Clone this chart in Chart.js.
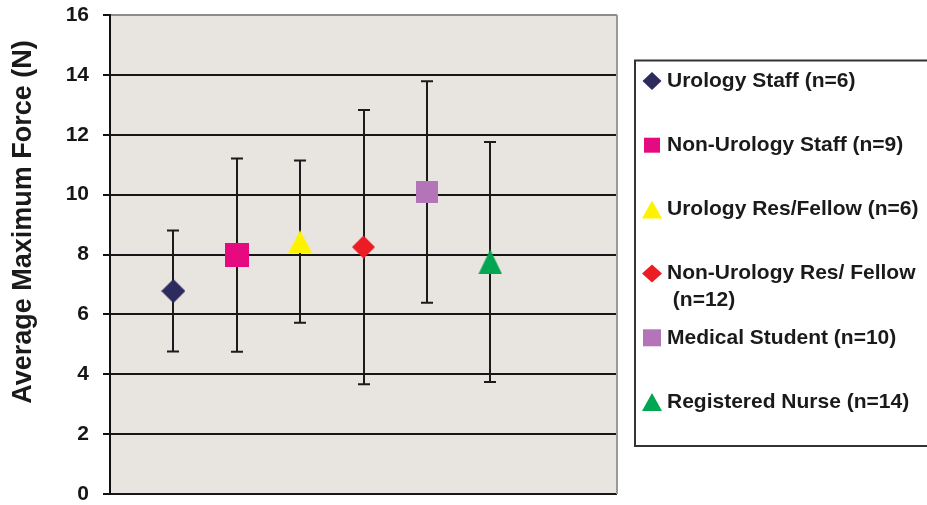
<!DOCTYPE html>
<html>
<head>
<meta charset="utf-8">
<script src="https://cdn.jsdelivr.net/npm/chart.js@4.4.1/dist/chart.umd.min.js"></script>
<style>
  html, body { margin: 0; padding: 0; background: #ffffff; }
  #wrap { width: 927px; height: 505px; position: relative; }
</style>
</head>
<body>
<div id="wrap"><canvas id="c" width="927" height="505"></canvas></div>
<script>
// Groups tested, mean of the maximum force (N) and the error-bar half width
const groups = [
  'Urology Staff (n=6)',
  'Non-Urology Staff (n=9)',
  'Urology Res/Fellow (n=6)',
  'Non-Urology Res/ Fellow (n=12)',
  'Medical Student (n=10)',
  'Registered Nurse (n=14)'
];
const meanForce = [6.78, 7.98, 8.43, 8.25, 10.09, 7.75];
const errForce = [2.02, 3.23, 2.71, 4.58, 3.70, 4.01];
const yTicks = [0, 2, 4, 6, 8, 10, 12, 14, 16];
const yTitle = 'Average Maximum Force (N)';

const markerColors = ['#2d2a5e', '#e50a80', '#fff200', '#ec1c24', '#b474b8', '#00a651'];
const markerShapes = ['diamond', 'square', 'triangle', 'diamond', 'square', 'triangle'];
const markerSizes = [[24, 24], [24, 24], [24, 23], [23, 23], [22, 22], [24, 25]];
const legendSizes = [[19, 18], [16, 15], [20, 18], [20, 18], [18, 17], [20, 18]];

const FONT = 'Arial, "Liberation Sans", Helvetica, sans-serif';

function traceShape(ctx, shape, cx, cy, w, h) {
  ctx.beginPath();
  if (shape === 'diamond') {
    ctx.moveTo(cx, cy - h / 2);
    ctx.lineTo(cx + w / 2, cy);
    ctx.lineTo(cx, cy + h / 2);
    ctx.lineTo(cx - w / 2, cy);
  } else if (shape === 'square') {
    ctx.rect(cx - w / 2, cy - h / 2, w, h);
  } else {
    ctx.moveTo(cx, cy - h / 2);
    ctx.lineTo(cx + w / 2, cy + h / 2);
    ctx.lineTo(cx - w / 2, cy + h / 2);
  }
  ctx.closePath();
}

function markerCanvas(shape, color, w, h) {
  const cv = document.createElement('canvas');
  cv.width = w;
  cv.height = h;
  const g = cv.getContext('2d');
  g.fillStyle = color;
  traceShape(g, shape, w / 2, h / 2, w, h);
  g.fill();
  return cv;
}

const datasets = groups.map((label, i) => ({
  label: label,
  data: [{ x: i + 1, y: meanForce[i] }],
  pointStyle: markerCanvas(markerShapes[i], markerColors[i], markerSizes[i][0], markerSizes[i][1]),
  backgroundColor: markerColors[i],
  borderColor: markerColors[i],
  showLine: false
}));

// plot area fill and right-hand frame
const plotFrame = {
  id: 'plotFrame',
  beforeDraw(chart) {
    const { ctx, chartArea: a } = chart;
    ctx.save();
    ctx.fillStyle = '#e8e5e1';
    ctx.fillRect(a.left, a.top, a.right - a.left, a.bottom - a.top);
    ctx.restore();
  },
  beforeDatasetsDraw(chart) {
    const { ctx, chartArea: a } = chart;
    ctx.save();
    ctx.strokeStyle = '#9a9a9a';
    ctx.lineWidth = 2;
    ctx.beginPath();
    ctx.moveTo(a.right, a.top);
    ctx.lineTo(a.right, a.bottom);
    ctx.stroke();
    ctx.restore();
  }
};

// vertical error bars with caps, under the markers
const errorBars = {
  id: 'errorBars',
  beforeDatasetsDraw(chart) {
    const { ctx, scales: { x, y } } = chart;
    ctx.save();
    ctx.strokeStyle = '#1b1b1b';
    ctx.lineWidth = 2;
    meanForce.forEach((m, i) => {
      const px = Math.round(x.getPixelForValue(i + 1));
      const top = y.getPixelForValue(m + errForce[i]);
      const bot = y.getPixelForValue(m - errForce[i]);
      ctx.beginPath();
      ctx.moveTo(px, top);
      ctx.lineTo(px, bot);
      ctx.moveTo(px - 6, top);
      ctx.lineTo(px + 6, top);
      ctx.moveTo(px - 6, bot);
      ctx.lineTo(px + 6, bot);
      ctx.stroke();
    });
    ctx.restore();
  }
};

// rotated axis title
const axisTitle = {
  id: 'axisTitle',
  afterDraw(chart) {
    const { ctx } = chart;
    ctx.save();
    ctx.translate(24, 222);
    ctx.rotate(-Math.PI / 2);
    ctx.font = 'bold 27px ' + FONT;
    ctx.fillStyle = '#1a1a1a';
    ctx.textAlign = 'center';
    ctx.textBaseline = 'middle';
    ctx.fillText(yTitle, 0, 0);
    ctx.restore();
  }
};

// boxed legend to the right of the plot
const boxLegend = {
  id: 'boxLegend',
  afterDraw(chart) {
    const { ctx } = chart;
    ctx.save();
    ctx.strokeStyle = '#333333';
    ctx.lineWidth = 2;
    ctx.strokeRect(635, 60.5, 310, 385.5);
    ctx.font = 'bold 21px ' + FONT;
    ctx.fillStyle = '#1a1a1a';
    ctx.textBaseline = 'middle';
    ctx.textAlign = 'left';
    const maxW = 255;
    chart.data.datasets.forEach((ds, i) => {
      const yy = 81 + i * 64.2;
      ctx.fillStyle = markerColors[i];
      traceShape(ctx, markerShapes[i], 652, yy, legendSizes[i][0], legendSizes[i][1]);
      ctx.fill();
      ctx.fillStyle = '#1a1a1a';
      const words = ds.label.split(' ');
      let line = '';
      const lines = [];
      words.forEach(w => {
        const test = line ? line + ' ' + w : w;
        if (ctx.measureText(test).width > maxW && line) {
          lines.push(line);
          line = ' ' + w;
        } else {
          line = test;
        }
      });
      lines.push(line);
      lines.forEach((t, k) => ctx.fillText(t, 667, yy + k * 27));
    });
    ctx.restore();
  }
};

new Chart(document.getElementById('c'), {
  type: 'scatter',
  data: { datasets: datasets },
  options: {
    responsive: false,
    animation: false,
    events: [],
    layout: { padding: { left: 0, top: 15, right: 310, bottom: 11 } },
    plugins: {
      legend: { display: false },
      tooltip: { enabled: false }
    },
    scales: {
      x: {
        type: 'linear',
        min: 0,
        max: 8,
        display: false
      },
      y: {
        type: 'linear',
        min: 0,
        max: 16,
        afterBuildTicks: s => { s.ticks = yTicks.map(v => ({ value: v })); },
        afterFit: s => { s.width = 110; s.paddingTop = 0; s.paddingBottom = 0; },
        border: { display: true, color: '#111111', width: 2 },
        grid: {
          color: c => (c.tick && c.tick.value === 16 ? '#8c8c8c' : '#161616'),
          lineWidth: 2,
          tickLength: 7,
          tickColor: '#111111',
          drawTicks: true
        },
        ticks: {
          padding: 14,
          color: '#161616',
          font: { family: FONT, size: 21, weight: 'bold' }
        }
      }
    }
  },
  plugins: [plotFrame, errorBars, axisTitle, boxLegend]
});
</script>
</body>
</html>
